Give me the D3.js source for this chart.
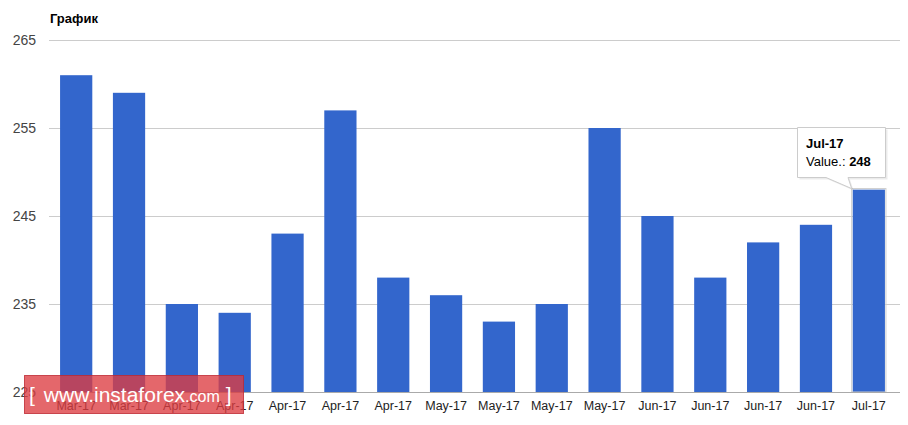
<!DOCTYPE html>
<html><head><meta charset="utf-8">
<script src="https://cdn.jsdelivr.net/npm/d3@7"></script>
<style>body{margin:0;background:#fff;} svg{display:block;font-family:Arial,"Liberation Sans",sans-serif;}</style>
</head><body>
<svg id="c" width="908" height="425"></svg>
<script>
const categories = ["Mar-17","Mar-17","Apr-17","Apr-17","Apr-17","Apr-17","Apr-17","May-17","May-17","May-17","May-17","Jun-17","Jun-17","Jun-17","Jun-17","Jul-17"];
const values = [261,259,235,234,243,257,238,236,233,235,255,245,238,242,244,248];
const yTicks = [225,235,245,255,265];
const title = "График";

const svg = d3.select("#c");
const x = d3.scaleBand().domain(d3.range(categories.length)).range([49.5,895.5]).paddingInner(0.39).paddingOuter(0.2);
const y = d3.scaleLinear().domain([225,265]).range([392,40]);

svg.append("text").attr("x",50).attr("y",23).attr("font-size",13).attr("font-weight","bold").attr("fill","#000").text(title);

const g = svg.append("g");
g.selectAll("line.grid").data(yTicks.slice(1)).join("line")
  .attr("x1",49).attr("x2",900).attr("y1",d=>Math.round(y(d))+0.5).attr("y2",d=>Math.round(y(d))+0.5)
  .attr("stroke","#cccccc");
g.selectAll("text.yl").data(yTicks).join("text")
  .attr("x",36).attr("y",d=>y(d)+5).attr("text-anchor","end").attr("font-size",14).attr("fill","#444").text(d=>d);

g.selectAll("rect.bar").data(values).join("rect")
  .attr("x",(d,i)=>x(i)).attr("width",x.bandwidth())
  .attr("y",d=>y(d)).attr("height",d=>y(225)-y(d)).attr("fill","#3366cc");

// hover highlight on last bar
const li = values.length-1;
g.append("rect").attr("x",x(li)-1).attr("y",y(values[li])-1).attr("width",x.bandwidth()+2).attr("height",y(225)-y(values[li])+1)
  .attr("fill","none").attr("stroke","#cccccc").attr("stroke-width",1);

g.append("line").attr("x1",49).attr("x2",900).attr("y1",392.5).attr("y2",392.5).attr("stroke","#aaaaaa");

g.selectAll("text.xl").data(categories).join("text")
  .attr("x",(d,i)=>x(i)+x.bandwidth()/2).attr("y",410).attr("text-anchor","middle")
  .attr("font-size",12.5).attr("fill","#222").text(d=>d);

// tooltip
const bx = x(li), by = y(values[li]);
const tt = svg.append("g");
const path = `M797.5,127.5 H885.5 V177.5 H848 L${bx-1},${by-1} L826,177.5 H797.5 Z`;
tt.append("path").attr("d",path).attr("fill","#000").attr("opacity",0.08).attr("transform","translate(2,2)");
tt.append("path").attr("d",path).attr("fill","#fff").attr("stroke","#cccccc");
tt.append("text").attr("x",806).attr("y",148).attr("font-size",13).attr("font-weight","bold").attr("fill","#000").text(categories[li]);
const t2 = tt.append("text").attr("x",806).attr("y",166).attr("font-size",13).attr("fill","#000");
t2.append("tspan").text("Value.: ");
t2.append("tspan").attr("font-weight","bold").text(values[li]);

// watermark
const wm = svg.append("g");
wm.append("rect").attr("x",24.5).attr("y",375.5).attr("width",219).attr("height",38)
  .attr("fill","rgba(220,60,65,0.78)").attr("stroke","rgba(190,40,50,0.8)");
const wt = wm.append("text").attr("x",29).attr("y",402).attr("fill","#fff");
wt.append("tspan").attr("font-size",21).text("[");
wt.append("tspan").attr("font-size",21).attr("dx",9).text("www.instaforex");
wt.append("tspan").attr("font-size",16).text(".com");
wt.append("tspan").attr("font-size",21).attr("dx",6).text("]");
</script>
</body></html>
